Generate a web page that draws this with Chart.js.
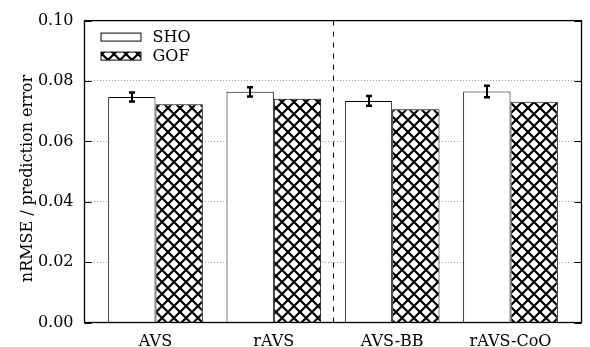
<!DOCTYPE html>
<html>
<head>
<meta charset="utf-8">
<script src="https://cdn.jsdelivr.net/npm/chart.js@4"></script>
<style>
  html, body { margin: 0; padding: 0; background: #fff; }
</style>
</head>
<body>
<canvas id="chart" width="590" height="347"></canvas>
<script>
// bar chart data
const categories = ['AVS', 'rAVS', 'AVS-BB', 'rAVS-CoO'];
const seriesNames = ['SHO', 'GOF'];
const shoValues = [0.0747, 0.0764, 0.0734, 0.0765];
const shoErrors = [0.0015, 0.0015, 0.0016, 0.0019];
const gofValues = [0.0723, 0.0741, 0.0706, 0.0731];
const yTicks = [0, 0.02, 0.04, 0.06, 0.08, 0.10];
const yTitle = 'nRMSE / prediction error';
const separatorAt = 1.5;

const FONT = 'DejaVu Serif';
const FONT_SIZE = 16;
Chart.defaults.font.family = FONT;
Chart.defaults.font.size = FONT_SIZE;
Chart.defaults.color = '#000';

// crosshatch fill for the GOF bars
function makeCrosshatch() {
  const c = document.createElement('canvas');
  c.width = 12;
  c.height = 12;
  const g = c.getContext('2d');
  g.fillStyle = '#fff';
  g.fillRect(0, 0, 12, 12);
  g.strokeStyle = '#000';
  g.lineWidth = 2.2;
  for (const k of [-12, 0, 12]) {
    g.beginPath();
    g.moveTo(k, 0); g.lineTo(k + 12, 12);
    g.moveTo(k, 12); g.lineTo(k + 12, 0);
    g.stroke();
  }
  return g.createPattern(c, 'repeat');
}
const hatch = makeCrosshatch();

// dotted grid is drawn by the scale, the rest here
const decorations = {
  id: 'decorations',
  afterDatasetsDraw(chart) {
    const ctx = chart.ctx;
    const area = chart.chartArea;
    const x = chart.scales.x;
    const y = chart.scales.y;

    // error bars on SHO
    const meta = chart.getDatasetMeta(0);
    ctx.save();
    ctx.strokeStyle = '#000';
    shoValues.forEach((v, i) => {
      const cx = Math.round(meta.data[i].x);
      const yTop = y.getPixelForValue(v + shoErrors[i]);
      const yBot = y.getPixelForValue(v - shoErrors[i]);
      ctx.lineWidth = 2;
      ctx.beginPath();
      ctx.moveTo(cx, yTop); ctx.lineTo(cx, yBot);
      ctx.stroke();
      ctx.lineWidth = 2.5;
      ctx.beginPath();
      ctx.moveTo(cx - 3, yTop); ctx.lineTo(cx + 3, yTop);
      ctx.moveTo(cx - 3, yBot); ctx.lineTo(cx + 3, yBot);
      ctx.stroke();
    });

    // dashed separator
    const sx = Math.round(x.getPixelForValue(separatorAt)) + 0.5;
    ctx.lineWidth = 1;
    ctx.setLineDash([5, 6]);
    ctx.beginPath();
    ctx.moveTo(sx, area.top);
    ctx.lineTo(sx, area.bottom);
    ctx.stroke();
    ctx.setLineDash([]);

    // inward tick marks, left and right
    yTicks.forEach(t => {
      const py = Math.round(y.getPixelForValue(t)) + 0.5;
      ctx.beginPath();
      ctx.moveTo(area.left, py); ctx.lineTo(area.left + 7, py);
      ctx.moveTo(area.right, py); ctx.lineTo(area.right - 7, py);
      ctx.stroke();
    });

    // frame
    ctx.lineWidth = 1.3;
    ctx.strokeRect(area.left, area.top, area.right - area.left, area.bottom - area.top);

    // key, top left inside the plot
    ctx.font = FONT_SIZE + 'px "' + FONT + '"';
    ctx.textBaseline = 'alphabetic';
    ctx.textAlign = 'left';
    chart.data.datasets.forEach((ds, i) => {
      const bx = area.left + 16.5;
      const by = area.top + 12.5 + i * 19;
      ctx.fillStyle = ds.backgroundColor;
      ctx.fillRect(bx, by, 40, 8);
      ctx.lineWidth = 1;
      ctx.strokeRect(bx, by, 40, 8);
      ctx.fillStyle = '#000';
      ctx.fillText(ds.label, area.left + 68, by + 8.8);
    });

    // y axis title, sits a little below the plot middle like the original
    ctx.translate(28, (area.top + area.bottom) / 2 + 7);
    ctx.rotate(-Math.PI / 2);
    ctx.textAlign = 'center';
    ctx.textBaseline = 'middle';
    ctx.fillText(yTitle, 0, 0);
    ctx.restore();
  }
};

new Chart(document.getElementById('chart'), {
  type: 'bar',
  plugins: [decorations],
  data: {
    datasets: [
      {
        label: seriesNames[0],
        data: shoValues.map((v, i) => ({ x: i, y: v })),
        backgroundColor: '#fff',
        borderColor: '#000',
        borderWidth: 1
      },
      {
        label: seriesNames[1],
        data: gofValues.map((v, i) => ({ x: i, y: v })),
        backgroundColor: hatch,
        borderColor: '#000',
        borderWidth: 1
      }
    ]
  },
  options: {
    responsive: false,
    animation: false,
    datasets: {
      bar: { barPercentage: 1, categoryPercentage: 0.8 }
    },
    layout: { padding: { left: 0, right: 8.5, top: 14.5, bottom: 0 } },
    plugins: {
      legend: { display: false },
      tooltip: { enabled: false }
    },
    scales: {
      x: {
        type: 'linear',
        min: -0.6,
        max: 3.6,
        offset: false,
        grid: { display: false },
        border: { display: false },
        afterBuildTicks: (axis) => { axis.ticks = categories.map((_, i) => ({ value: i })); },
        afterFit: (axis) => { axis.height = 24.5; },
        ticks: {
          padding: 2,
          autoSkip: false,
          maxRotation: 0,
          callback: (v) => categories[v]
        }
      },
      y: {
        min: 0,
        max: 0.1,
        grid: { color: '#a0a0a0', lineWidth: 1, drawTicks: false },
        border: { display: false, dash: [1, 2] },
        afterBuildTicks: (axis) => { axis.ticks = yTicks.map(v => ({ value: v })); },
        afterFit: (axis) => { axis.width = 84.5; },
        ticks: {
          padding: 11,
          callback: (v) => v.toFixed(2)
        }
      }
    }
  }
});
</script>
</body>
</html>
